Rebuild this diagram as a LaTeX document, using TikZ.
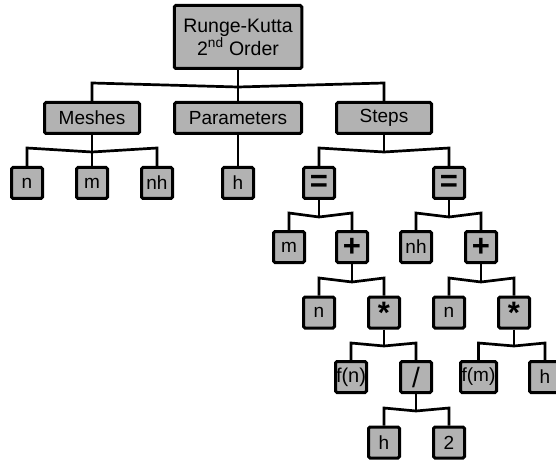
\documentclass[tikz,border=0pt]{standalone}
\usepackage{fontspec}
\setmainfont{Liberation Sans}
\definecolor{boxgray}{RGB}{178,178,178}
\tikzset{
  box/.style={draw=black, fill=boxgray, line width=3pt, rounded corners=1.5pt,
    inner sep=0pt, minimum width=31pt, minimum height=31pt,
    font=\fontsize{19}{22}\selectfont, align=center},
  opbox/.style={box, font=\fontsize{31}{31}\selectfont\bfseries},
  conn/.style={draw=black, line width=2.7pt, line join=miter},
}
\newcommand{\branch}[5]{% parent, left, right, bar y, dip y
  \draw[conn] (#2.north) -- (#2.north |- 0,#4) -- (#1.south |- 0,#5) -- (#3.north |- 0,#4) -- (#3.north);
  \draw[conn] (#1.south) -- (#1.south |- 0,#5);
}
\begin{document}
\begin{tikzpicture}[x=1pt,y=-1pt]
\useasboundingbox (0,0) rectangle (556,462);
% level 0
\node[box, minimum width=127.5pt, minimum height=63pt, font=\fontsize{19.5}{23}\selectfont] (root) at (238,37) {Runge-Kutta\\2\textsuperscript{nd} Order};
% level 1
\node[box, minimum width=95pt] (mesh) at (92,118) {Meshes};
\node[box, minimum width=127pt] (par) at (238,118) {Parameters};
\node[box, minimum width=95pt] (steps) at (384,118) {Steps};
% level 2
\node[box] (n1) at (27,183) {n};
\node[box] (m1) at (92,183) {m};
\node[box] (nh1) at (157,183) {nh};
\node[box] (h1) at (238,183) {h};
\node[opbox] (eq1) at (319,183) {=};
\node[opbox] (eq2) at (449,183) {=};
% level 3
\node[box] (m2) at (289,247) {m};
\node[opbox] (pl1) at (352,247) {+};
\node[box] (nh2) at (416,247) {nh};
\node[opbox] (pl2) at (481,247) {+};
% level 4
\node[box] (n2) at (319,312.5) {n};
\node[opbox] (st1) at (384,312.5) {\raisebox{-8pt}{*}};
\node[box] (n3) at (449,312.5) {n};
\node[opbox] (st2) at (514,312.5) {\raisebox{-8pt}{*}};
% level 5
\node[box, font=\fontsize{20}{22}\selectfont] (fn) at (351,377) {f(n)};
\node[box, font=\fontsize{28}{28}\selectfont] (dv) at (416,377) {/};
\node[box, minimum width=36pt, font=\fontsize{19}{22}\selectfont] (fm) at (478.5,377) {f(m)};
\node[box] (h3) at (545,377) {h};
% level 6
\node[box] (h2) at (384,442.5) {h};
\node[box] (two) at (449,442.5) {2};
% connectors
\branch{root}{mesh}{steps}{83}{87}
\draw[conn] (root.south |- 0,87) -- (par.north);
\branch{mesh}{n1}{nh1}{148}{152}
\draw[conn] (mesh.south |- 0,152) -- (m1.north);
\draw[conn] (par.south) -- (h1.north);
\branch{steps}{eq1}{eq2}{148}{152}
\branch{eq1}{m2}{pl1}{213}{217}
\branch{eq2}{nh2}{pl2}{213}{217}
\branch{pl1}{n2}{st1}{278}{282}
\branch{pl2}{n3}{st2}{278}{282}
\branch{st1}{fn}{dv}{343}{346}
\branch{st2}{fm}{h3}{343}{346}
\branch{dv}{h2}{two}{408}{411}
\end{tikzpicture}
\end{document}
